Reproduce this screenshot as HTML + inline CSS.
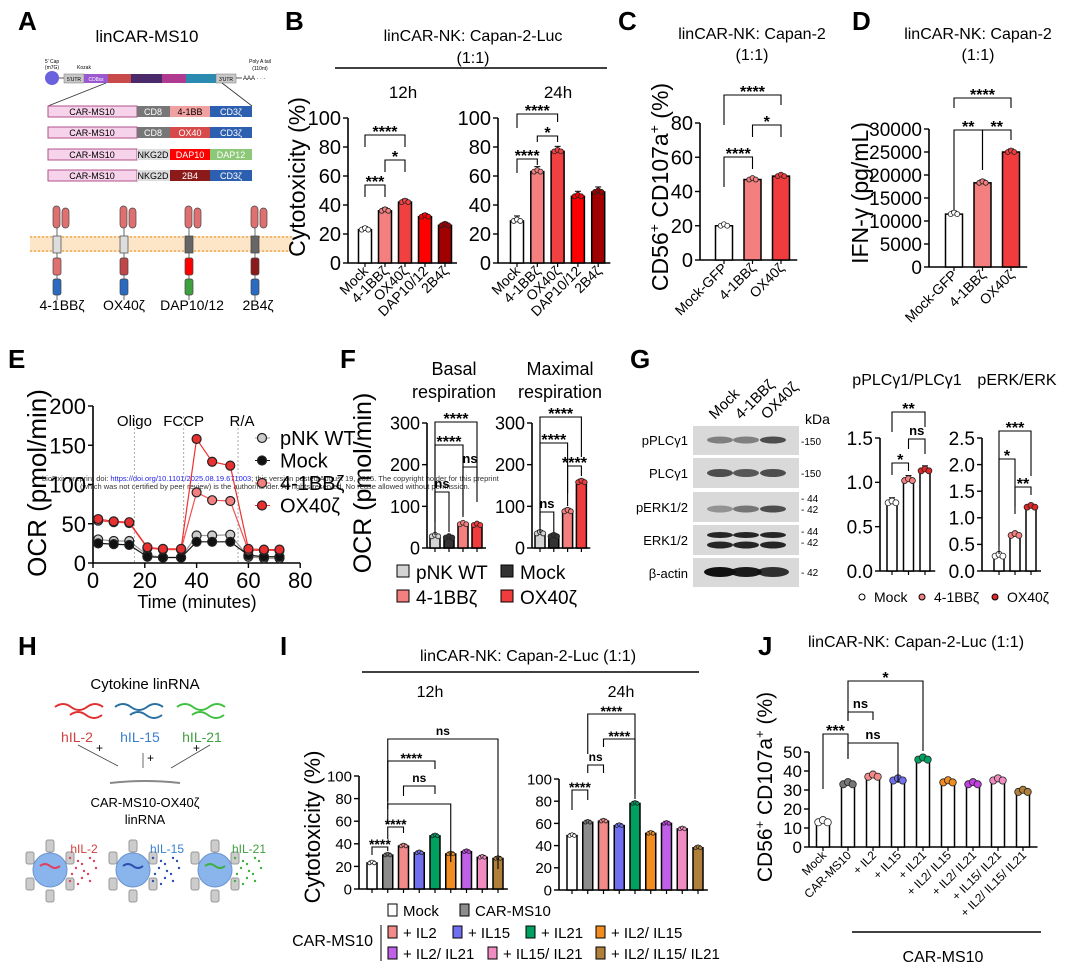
<!DOCTYPE html>
<html><head><meta charset="utf-8"><style>
html,body{margin:0;padding:0;background:#fff;}
svg{display:block;font-family:"Liberation Sans",Arial,sans-serif;}
</style></head><body>
<svg id="fig" width="1076" height="976" viewBox="0 0 1076 976" xmlns="http://www.w3.org/2000/svg">
<rect x="0" y="0" width="1076" height="976" fill="#fff"/>
<!-- panel letters -->
<g font-weight="bold" font-size="26" fill="#000">
<text x="18" y="30">A</text>
<text x="285" y="30">B</text>
<text x="618" y="30">C</text>
<text x="852" y="30">D</text>
<text x="8" y="368">E</text>
<text x="340" y="368">F</text>
<text x="630" y="368">G</text>
<text x="18" y="655">H</text>
<text x="280" y="655">I</text>
<text x="758" y="655">J</text>
</g>

<!-- Panel A diagram -->
<g>
<text x="147" y="42" font-size="17" text-anchor="middle">linCAR-MS10</text>
<text x="52" y="63" font-size="5" text-anchor="middle">5' Cap</text>
<text x="52" y="69" font-size="5" text-anchor="middle">(m7G)</text>
<text x="84" y="69" font-size="5" text-anchor="middle">Kozak</text>
<text x="260" y="63" font-size="5" text-anchor="middle">Poly A tail</text>
<text x="260" y="70" font-size="5" text-anchor="middle">(110nt)</text>
<circle cx="52" cy="78" r="7" fill="#6a62dc"/>
<line x1="59" y1="78" x2="64" y2="78" stroke="#555"/>
<rect x="64" y="74" width="20" height="9" fill="#c8c8c8" stroke="#777" stroke-width="0.5"/>
<text x="74" y="81" font-size="5" text-anchor="middle">5'UTR</text>
<rect x="84" y="74" width="24" height="9" fill="#9b59d0"/>
<text x="96" y="81" font-size="5" fill="#fff" text-anchor="middle">CD8ss</text>
<rect x="108" y="74" width="23" height="9" fill="#c94a4a"/>
<rect x="131" y="74" width="31" height="9" fill="#4a2a6a"/>
<rect x="162" y="74" width="24" height="9" fill="#b03a90"/>
<rect x="186" y="74" width="30" height="9" fill="#2a8ab0"/>
<rect x="216" y="74" width="20" height="9" fill="#c8c8c8" stroke="#777" stroke-width="0.5"/>
<text x="226" y="81" font-size="5" text-anchor="middle">3'UTR</text>
<line x1="236" y1="78" x2="242" y2="78" stroke="#555"/>
<text x="243" y="80" font-size="6">AAA · · ·</text>
<line x1="106" y1="83" x2="48" y2="106" stroke="#333" stroke-width="0.8"/>
<line x1="222" y1="83" x2="252" y2="106" stroke="#333" stroke-width="0.8"/>
<g font-size="9" text-anchor="middle">
<g><rect x="48" y="106" width="89" height="11" fill="#f6d3ea" stroke="#b0528a"/><rect x="137" y="106" width="33" height="11" fill="#777"/><rect x="170" y="106" width="40" height="11" fill="#f0a0a0"/><rect x="210" y="106" width="42" height="11" fill="#2d5fb0"/>
<text x="92" y="115">CAR-MS10</text><text x="153" y="115" fill="#fff">CD8</text><text x="190" y="115">4-1BB</text><text x="231" y="115" fill="#fff">CD3ζ</text></g>
<g><rect x="48" y="127" width="89" height="11" fill="#f6d3ea" stroke="#b0528a"/><rect x="137" y="127" width="33" height="11" fill="#777"/><rect x="170" y="127" width="40" height="11" fill="#d84a4a"/><rect x="210" y="127" width="42" height="11" fill="#2d5fb0"/>
<text x="92" y="136">CAR-MS10</text><text x="153" y="136" fill="#fff">CD8</text><text x="190" y="136" fill="#fff">OX40</text><text x="231" y="136" fill="#fff">CD3ζ</text></g>
<g><rect x="48" y="149" width="89" height="11" fill="#f6d3ea" stroke="#b0528a"/><rect x="137" y="149" width="33" height="11" fill="#ddd"/><rect x="170" y="149" width="40" height="11" fill="#f00"/><rect x="210" y="149" width="42" height="11" fill="#8cc878"/>
<text x="92" y="158">CAR-MS10</text><text x="153" y="158">NKG2D</text><text x="190" y="158" fill="#fff">DAP10</text><text x="231" y="158" fill="#fff">DAP12</text></g>
<g><rect x="48" y="170" width="89" height="11" fill="#f6d3ea" stroke="#b0528a"/><rect x="137" y="170" width="33" height="11" fill="#ddd"/><rect x="170" y="170" width="40" height="11" fill="#8b1a1a"/><rect x="210" y="170" width="42" height="11" fill="#2d5fb0"/>
<text x="92" y="179">CAR-MS10</text><text x="153" y="179">NKG2D</text><text x="190" y="179" fill="#fff">2B4</text><text x="231" y="179" fill="#fff">CD3ζ</text></g>
</g>
<rect x="30" y="236" width="262" height="16" fill="#fde6c8"/>
<line x1="30" y1="237" x2="292" y2="237" stroke="#f5b870" stroke-width="2" stroke-dasharray="2 2"/>
<line x1="30" y1="251" x2="292" y2="251" stroke="#f5b870" stroke-width="2" stroke-dasharray="2 2"/>
<g id="receptors"></g>
<g font-size="14" text-anchor="middle">
<text x="62" y="310">4-1BBζ</text><text x="124" y="310">OX40ζ</text><text x="192" y="310">DAP10/12</text><text x="258" y="310">2B4ζ</text></g>
</g>

<!-- Panel H diagram -->
<g>
<text x="145" y="689" font-size="15" text-anchor="middle">Cytokine linRNA</text>
<path d="M55 707 q8 -6 16 0 t16 0 t16 0 M70 715 q8 -6 16 0 t16 0" fill="none" stroke="#e03030" stroke-width="2"/>
<path d="M115 707 q8 -6 16 0 t16 0 t16 0 M130 715 q8 -6 16 0 t16 0" fill="none" stroke="#2a70a0" stroke-width="2"/>
<path d="M177 707 q8 -6 16 0 t16 0 t16 0 M192 715 q8 -6 16 0 t16 0" fill="none" stroke="#40c040" stroke-width="2"/>
<g font-size="14" text-anchor="middle">
<text x="77" y="742" fill="#d04040">hIL-2</text><text x="140" y="742" fill="#3a80d0">hIL-15</text><text x="202" y="742" fill="#40a040">hIL-21</text></g>
<g stroke="#444" stroke-width="0.8">
<line x1="78" y1="745" x2="118" y2="766"/><line x1="143" y1="753" x2="143" y2="768"/><line x1="210" y1="745" x2="171" y2="768"/></g>
<g font-size="12"><text x="96" y="752">+</text><text x="147" y="762">+</text><text x="193" y="752">+</text></g>
<path d="M110 783 q35 -4 70 0" fill="none" stroke="#888" stroke-width="2"/>
<text x="145" y="807" font-size="13" text-anchor="middle">CAR-MS10-OX40ζ</text>
<text x="145" y="824" font-size="13" text-anchor="middle">linRNA</text>
<g id="cells"></g>
<g font-size="12" text-anchor="middle">
<text x="84" y="853" fill="#d04040">hIL-2</text><text x="167" y="853" fill="#3a80d0">hIL-15</text><text x="249" y="853" fill="#40a040">hIL-21</text></g>
</g>

<!-- G western blot -->
<g>
<g font-size="15">
<text transform="translate(715,420) rotate(-45)">Mock</text>
<text transform="translate(741,420) rotate(-45)">4-1BBζ</text>
<text transform="translate(767,420) rotate(-45)">OX40ζ</text></g>
<text x="805" y="424" font-size="14">kDa</text>
<g id="blot"></g>
<g font-size="13" text-anchor="end">
<text x="688" y="445">pPLCγ1</text><text x="688" y="478">PLCγ1</text><text x="688" y="512">pERK1/2</text><text x="688" y="545">ERK1/2</text><text x="688" y="578">β-actin</text></g>
<g font-size="10">
<text x="801" y="445">-150</text><text x="801" y="477">-150</text><text x="801" y="502">- 44</text><text x="801" y="513">- 42</text><text x="801" y="535">- 44</text><text x="801" y="546">- 42</text><text x="801" y="576">- 42</text></g>
</g>

<!-- text titles -->
<g font-size="16" text-anchor="middle">
<text x="473" y="41">linCAR-NK: Capan-2-Luc</text><text x="473" y="63">(1:1)</text>
<text x="403" y="98" font-size="17">12h</text><text x="558" y="98" font-size="17">24h</text>
<text x="752" y="39">linCAR-NK: Capan-2</text><text x="752" y="60">(1:1)</text>
<text x="978" y="39">linCAR-NK: Capan-2</text><text x="978" y="60">(1:1)</text>
<text x="454" y="375" font-size="18">Basal</text><text x="454" y="398" font-size="18">respiration</text>
<text x="560" y="375" font-size="18">Maximal</text><text x="560" y="398" font-size="18">respiration</text>
<text x="907" y="385">pPLCγ1/PLCγ1</text><text x="1017" y="385">pERK/ERK</text>
<text x="528" y="661">linCAR-NK: Capan-2-Luc (1:1)</text>
<text x="430" y="697">12h</text><text x="621" y="697">24h</text>
<text x="916" y="647">linCAR-NK: Capan-2-Luc (1:1)</text>
<text x="943" y="962">CAR-MS10</text>
</g>
<line x1="335" y1="68" x2="607" y2="68" stroke="#000" stroke-width="1.5"/>
<line x1="362" y1="672" x2="699" y2="672" stroke="#000" stroke-width="1.5"/>
<line x1="852" y1="932" x2="1041" y2="932" stroke="#000" stroke-width="1.5"/>

<!-- axis titles -->
<g font-size="23" text-anchor="middle">
<text transform="translate(305,177) rotate(-90)">Cytotoxicity (%)</text>
<text transform="translate(668,187) rotate(-90)">CD56<tspan font-size="14" dy="-9">+</tspan><tspan dy="9"> CD107a</tspan><tspan font-size="14" dy="-9">+</tspan><tspan dy="9"> (%)</tspan></text>
<text transform="translate(868,193) rotate(-90)">IFN-γ (pg/mL)</text>
<text transform="translate(46,483) rotate(-90)" font-size="26">OCR (pmol/min)</text>
<text x="197" y="608" font-size="18">Time (minutes)</text>
<text transform="translate(371,483) rotate(-90)" font-size="25">OCR (pmol/min)</text>
<text transform="translate(320,827) rotate(-90)" font-size="22">Cytotoxicity (%)</text>
<text transform="translate(772,787) rotate(-90)" font-size="21">CD56<tspan font-size="13" dy="-8">+</tspan><tspan dy="8"> CD107a</tspan><tspan font-size="13" dy="-8">+</tspan><tspan dy="8"> (%)</tspan></text>
</g>

<!-- watermark -->
<g font-size="7.5">
<text x="42" y="481" fill="#333">bioRxiv preprint doi: <tspan fill="#2222ee">https://doi.org/10.1101/2025.08.19.671003</tspan>; this version posted August 19, 2025. The copyright holder for this preprint</text>
<text x="80" y="489" fill="#333">(which was not certified by peer review) is the author/funder. All rights reserved. No reuse allowed without permission.</text>
</g>

<!-- F legend -->
<g font-size="19">
<rect x="397" y="565" width="12" height="12" fill="#d3d3d3" stroke="#000"/><text x="416" y="579">pNK WT</text>
<rect x="501" y="565" width="12" height="12" fill="#333" stroke="#000"/><text x="520" y="579">Mock</text>
<rect x="397" y="590" width="12" height="12" fill="#f47f7f" stroke="#000"/><text x="416" y="604">4-1BBζ</text>
<rect x="501" y="590" width="12" height="12" fill="#f03c3c" stroke="#000"/><text x="520" y="604">OX40ζ</text>
</g>
<!-- G legend -->
<g font-size="14">
<circle cx="862" cy="597" r="3" fill="#fff" stroke="#000"/><text x="874" y="602">Mock</text>
<circle cx="922" cy="597" r="3" fill="#f47f7f" stroke="#000"/><text x="934" y="602">4-1BBζ</text>
<circle cx="995" cy="597" r="3" fill="#e02828" stroke="#000"/><text x="1007" y="602">OX40ζ</text>
</g>
<!-- I legend -->
<g font-size="15">
<rect x="388" y="904" width="9" height="12" fill="#fff" stroke="#000"/><text x="403" y="916">Mock</text>
<rect x="460" y="904" width="9" height="12" fill="#8c8c8c" stroke="#000"/><text x="475" y="916">CAR-MS10</text>
<rect x="388" y="926" width="9" height="12" fill="#f28a8a" stroke="#000"/><text x="403" y="938">+ IL2</text>
<rect x="453" y="926" width="9" height="12" fill="#6f6ff0" stroke="#000"/><text x="468" y="938">+ IL15</text>
<rect x="526" y="926" width="9" height="12" fill="#00a060" stroke="#000"/><text x="541" y="938">+ IL21</text>
<rect x="596" y="926" width="9" height="12" fill="#f08c20" stroke="#000"/><text x="611" y="938">+ IL2/ IL15</text>
<rect x="388" y="947" width="9" height="12" fill="#c060e8" stroke="#000"/><text x="403" y="959">+ IL2/ IL21</text>
<rect x="488" y="947" width="9" height="12" fill="#f08cc0" stroke="#000"/><text x="503" y="959">+ IL15/ IL21</text>
<rect x="596" y="947" width="9" height="12" fill="#b0803a" stroke="#000"/><text x="611" y="959">+ IL2/ IL15/ IL21</text>
<text x="373" y="946" font-size="16" text-anchor="end">CAR-MS10</text>
<line x1="381" y1="925" x2="381" y2="961" stroke="#000"/>
</g>
</svg>
<script>
// ---- data ----
const bCats = ['Mock','4-1BBζ','OX40ζ','DAP10/12','2B4ζ'];
const b12Vals = [23,36,42,32,26];
const b24Vals = [29,63,77,46,49];
const bTicks = [0,20,40,60,80,100];
const cCats = ['Mock-GFP','4-1BBζ','OX40ζ'];
const cVals = [20,47,49];
const cTicks = [0,20,40,60,80];
const dCats = ['Mock-GFP','4-1BBζ','OX40ζ'];
const dVals = [11500,18300,25000];
const dTicks = [0,5000,10000,15000,20000,25000,30000];
const eTimes = [2,8,14,21,27,34,40,46,53,60,66,72];
const ePNK = [30,28,28,10,7,7,35,35,36,8,6,6];
const eMock = [25,24,23,8,7,7,27,27,27,10,8,8];
const e41BB = [54,52,51,19,17,17,90,80,79,16,16,16];
const eOX40 = [56,53,52,20,18,18,158,129,124,18,17,17];
const eXTicks = [0,20,40,60,80];
const eYTicks = [0,50,100,150,200];
const eInjections = [16,35,56];
const eInjLabels = ['Oligo','FCCP','R/A'];
const fBasal = [28,25,57,55];
const fMaximal = [35,28,88,158];
const fTicks = [0,100,200,300];
const gPLC = [0.77,1.02,1.13];
const gERK = [0.28,0.67,1.2];
const gPLCTicks = [0,0.5,1.0,1.5];
const gERKTicks = [0,0.5,1.0,1.5,2.0,2.5];
const i12Vals = [23,30,38,32,47,31,33,28,27];
const i24Vals = [49,61,62,58,78,51,60,55,38];
const iTicks = [0,20,40,60,80,100];
const jCats = ['Mock','CAR-MS10','+ IL2','+ IL15','+ IL21','+ IL2/ IL15','+ IL2/ IL21','+ IL15/ IL21','+ IL2/ IL15/ IL21'];
const jVals = [13,33,37,35,46,34,33,35,29];
const jTicks = [0,10,20,30,40,50];

const NS='http://www.w3.org/2000/svg';
const svg=document.getElementById('fig');
function mk(tag,a,p){const e=document.createElementNS(NS,tag);for(const k in a)e.setAttribute(k,a[k]);(p||svg).appendChild(e);return e;}
function txt(s,a,p){const e=mk('text',a,p);e.textContent=s;return e;}

const redPal=['#fff','#f47f7f','#f04040','#ff0000','#a00000'];
const ilPal=['#fff','#8c8c8c','#f28a8a','#6f6ff0','#00a060','#f08c20','#c060e8','#f08cc0','#b0803a'];
const ilDot=['#fff','#777','#f28a8a','#6f6ff0','#00a060','#f08c20','#c040e0','#f08cc0','#b0803a'];

function barPanel(o){
  const g=mk('g',{});
  
  
  const y=v=>o.y0-(v/o.vmax)*(o.y0-o.ytop);
  const xc=i=>o.c0+i*o.step;
  const ax=mk('line',{x1:o.ax,y1:o.ytop,x2:o.ax,y2:o.y0,stroke:'#000','stroke-width':1.6},g);
  
  
  const xEnd=xc(o.vals.length-1)+o.step/2+2;
  const xa=mk('line',{x1:o.ax,y1:o.y0,x2:xEnd,y2:o.y0,stroke:'#000','stroke-width':1.6},g);
  
  
  o.ticks.forEach(t=>{
    const tk=mk('line',{x1:o.ax-5,y1:y(t),x2:o.ax,y2:y(t),stroke:'#000','stroke-width':1.4},g);
    
    
    const tl=txt(o.fmt?o.fmt(t):String(t),{x:o.ax-7,y:y(t)+o.tf*0.36,'font-size':o.tf,'text-anchor':'end'},g);
    
    
  });
  o.vals.forEach((v,i)=>{
    const b=mk('rect',{x:xc(i)-o.w/2,y:y(v),width:o.w,height:o.y0-y(v),fill:o.fills[i],stroke:'#000','stroke-width':1.5},g);
    
    
    const e=mk('line',{x1:xc(i),y1:y(v),x2:xc(i),y2:y(v)-o.err,stroke:'#000','stroke-width':1},g);
    
    
    const ec=mk('line',{x1:xc(i)-3,y1:y(v)-o.err,x2:xc(i)+3,y2:y(v)-o.err,stroke:'#000','stroke-width':1},g);
    
    
    [-1,0,1].forEach(k=>{
      const d=mk('circle',{cx:xc(i)+k*o.dr*1.3,cy:y(v)-(k===0?o.dr*0.6:0),r:o.dr,fill:o.dots[i],stroke:'#222','stroke-width':0.8},g);
      
      
    });
    const tk=mk('line',{x1:xc(i),y1:o.y0,x2:xc(i),y2:o.y0+4,stroke:'#000','stroke-width':1.2},g);
    
    
    if(o.cats){
      const cl=txt(o.cats[i],{transform:`translate(${xc(i)+4},${o.y0+9}) rotate(-45)`,'font-size':o.cf,'text-anchor':'end'},g);
      
      
    }
  });
  return {xc,y,g};
}
function bracket(P,i,j,top,label,di,dj,fs){
  const x1=P.xc(i),x2=P.xc(j);
  const p=mk('path',{d:`M${x1} ${top+(di||12)} V${top} H${x2} V${top+(dj||12)}`,fill:'none',stroke:'#000','stroke-width':1.1},P.g);
  
  
  const t=txt(label,{x:(x1+x2)/2,y:label==='ns'?top-4:top+2,'font-size':label==='ns'?(fs||14):(fs||14)+2,'text-anchor':'middle','font-weight':'bold'},P.g);
  
  
}

// B
const B12=barPanel({name:'b-12h-chart',ax:348,y0:263,ytop:118,vmax:100,ticks:bTicks,tf:20,c0:365,step:20,w:13,vals:b12Vals,fills:redPal,dots:redPal,cats:bCats,cf:14,err:3,dr:2.5});
bracket(B12,0,2,135,'****',12,12);bracket(B12,1,2,160,'*',12,12);bracket(B12,0,1,185,'***',12,12);
const B24=barPanel({name:'b-24h-chart',ax:498,y0:263,ytop:118,vmax:100,ticks:bTicks,tf:20,c0:517,step:20.3,w:13,vals:b24Vals,fills:redPal,dots:redPal,cats:bCats,cf:14,err:5,dr:2.5});
bracket(B24,0,2,114,'****',14,8);bracket(B24,1,2,136,'*',6,6);bracket(B24,0,1,159,'****',14,6);
// C
const C=barPanel({name:'c-chart',ax:700,y0:260,ytop:123,vmax:80,ticks:cTicks,tf:20,c0:724,step:28.5,w:17,vals:cVals,fills:['#fff','#f47f7f','#f03c3c'],dots:['#fff','#f47f7f','#f03c3c'],cats:cCats,cf:14,err:2,dr:2.5});
bracket(C,0,2,95,'****',30,10);bracket(C,1,2,125,'*',12,12);bracket(C,0,1,157,'****',30,12);
// D
const D=barPanel({name:'d-chart',ax:929,y0:267,ytop:129,vmax:30000,ticks:dTicks,tf:19,c0:954,step:28.5,w:17,vals:dVals,fills:['#fff','#f47f7f','#f03c3c'],dots:['#fff','#f47f7f','#f03c3c'],cats:dCats,cf:14,err:3,dr:2.5});
bracket(D,0,2,98,'****',10,10);bracket(D,0,1,130,'**',80,40);bracket(D,1,2,130,'**',40,10);
// F
const F1=barPanel({name:'f-basal-chart',ax:427,y0:548,ytop:423,vmax:300,ticks:fTicks,tf:18,c0:435,step:14,w:10,vals:fBasal,fills:['#d3d3d3','#333','#f47f7f','#f03c3c'],dots:['#d3d3d3','#333','#f47f7f','#f03c3c'],err:2,dr:2.5});
bracket(F1,0,3,422,'****',100,80);bracket(F1,0,2,445,'****',90,70);bracket(F1,2,3,467,'ns',50,10,13);bracket(F1,0,1,492,'ns',40,40,13);
const F2=barPanel({name:'f-maximal-chart',ax:532,y0:548,ytop:423,vmax:300,ticks:fTicks,tf:18,c0:540,step:13.8,w:10,vals:fMaximal,fills:['#d3d3d3','#333','#f47f7f','#f03c3c'],dots:['#d3d3d3','#333','#f47f7f','#f03c3c'],err:3,dr:2.5});
bracket(F2,0,3,417,'****',110,40);bracket(F2,0,2,443,'****',90,50);bracket(F2,2,3,466,'****',40,10);bracket(F2,0,1,512,'ns',20,20,13);
// G
const G1=barPanel({name:'g-plc-chart',ax:880,y0:571,ytop:438,vmax:1.5,ticks:gPLCTicks,fmt:t=>t.toFixed(1),tf:19,c0:892,step:16.5,w:10,vals:gPLC,fills:['#fff','#fff','#fff'],dots:['#fff','#f47f7f','#e02828'],err:5,dr:3});
bracket(G1,0,2,412,'**',20,15);bracket(G1,0,1,463,'*',12,8);bracket(G1,1,2,439,'ns',10,15,13);
const G2=barPanel({name:'g-erk-chart',ax:982,y0:571,ytop:438,vmax:2.5,ticks:gERKTicks,fmt:t=>t.toFixed(1),tf:19,c0:999,step:16,w:10,vals:gERK,fills:['#fff','#fff','#fff'],dots:['#fff','#f47f7f','#e02828'],err:3,dr:3});
bracket(G2,0,2,431,'***',115,45);bracket(G2,0,1,459,'*',95,55);bracket(G2,1,2,487,'**',20,8);
// I
const I12=barPanel({name:'i-12h-chart',ax:359,y0:889,ytop:776,vmax:100,ticks:iTicks,tf:15,c0:372,step:15.75,w:10,vals:i12Vals,fills:ilPal,dots:ilDot,err:2,dr:1.8});
bracket(I12,0,1,847,'****',8,4,12);bracket(I12,1,2,827,'****',12,6,12);bracket(I12,1,5,804,'',20,58);bracket(I12,2,4,786,'ns',10,8,12);bracket(I12,1,4,761,'****',40,8,12);bracket(I12,1,8,739,'ns',70,130,12);
const I24=barPanel({name:'i-24h-chart',ax:559,y0:890,ytop:779,vmax:100,ticks:iTicks,tf:15,c0:572,step:15.75,w:10,vals:i24Vals,fills:ilPal,dots:ilDot,err:2,dr:1.8});
bracket(I24,0,1,790,'****',20,10,12);bracket(I24,1,2,765,'ns',8,8,12);bracket(I24,2,4,739,'****',8,60,12);bracket(I24,1,4,714,'****',40,80,12);
// J
const J=barPanel({name:'j-chart',ax:809,y0:847,ytop:752,vmax:50,ticks:jTicks,tf:17,c0:823,step:25,w:13,vals:jVals,fills:ilPal.map(()=>'#fff'),dots:ilDot,cats:jCats,cf:12,err:4,dr:3.6});
bracket(J,0,1,734,'***',55,25);bracket(J,1,3,743,'ns',15,40,13);bracket(J,1,2,712,'ns',8,8,13);bracket(J,1,4,681,'*',40,70);

// E line chart
(function(){
  const g=mk('g',{});
  
  
  const x=t=>93+t*2.59, y=v=>563-v*0.785;
  eInjections.forEach((t,i)=>{
    const l=mk('line',{x1:x(t),y1:416,x2:x(t),y2:563,stroke:'#aaa','stroke-dasharray':'2 2'},g);
    
    
    const lt=txt(eInjLabels[i],{x:x(t)-(i===2?-4:0),y:426,'font-size':15,'text-anchor':'middle'},g);
    
    
  });
  const ya=mk('line',{x1:93,y1:y(200),x2:93,y2:563,stroke:'#000','stroke-width':1.6},g);
  
  
  const xa=mk('line',{x1:93,y1:563,x2:x(80),y2:563,stroke:'#000','stroke-width':1.6},g);
  
  
  eYTicks.forEach(t=>{
    const tk=mk('line',{x1:88,y1:y(t),x2:93,y2:y(t),stroke:'#000','stroke-width':1.4},g);
    
    
    const tl=txt(String(t),{x:86,y:y(t)+8,'font-size':22,'text-anchor':'end'},g);
    
    
  });
  eXTicks.forEach(t=>{
    const tk=mk('line',{x1:x(t),y1:563,x2:x(t),y2:568,stroke:'#000','stroke-width':1.4},g);
    
    
    const tl=txt(String(t),{x:x(t),y:588,'font-size':22,'text-anchor':'middle'},g);
    
    
  });
  const series=[[ePNK,'#999','#ccc','pnk-wt'],[eMock,'#111','#111','mock'],[e41BB,'#f05050','#f47f7f','41bbz'],[eOX40,'#f03030','#e83030','ox40z']];
  series.forEach(s=>{
    const pl=mk('polyline',{points:eTimes.map((t,i)=>x(t)+','+y(s[0][i])).join(' '),fill:'none',stroke:s[1],'stroke-width':1.2},g);
    
    
    eTimes.forEach((t,i)=>{
      const c=mk('circle',{cx:x(t),cy:y(s[0][i]),r:4.5,fill:s[2],stroke:'#222','stroke-width':1.2},g);
      
      
    });
  });
  const lg=[['pNK WT','#999','#ccc'],['Mock','#111','#111'],['4-1BBζ','#f05050','#f47f7f'],['OX40ζ','#f03030','#e83030']];
  lg.forEach((l,i)=>{
    const yy=438+i*22.5;
    const ln=mk('line',{x1:255,y1:yy,x2:270,y2:yy,stroke:l[1]},g);
    
    
    const c=mk('circle',{cx:262,cy:yy,r:4.5,fill:l[2],stroke:'#222','stroke-width':1.2},g);
    
    
    const t=txt(l[0],{x:280,y:yy+7,'font-size':20},g);
    
    
  });
})();

// A receptors
(function(){
  const R=document.getElementById('receptors');
  const xs=[60,127,192,258];
  const tm=['#ddd','#ddd','#666','#666'];
  const sig=['#e07070','#c04848','#ff0000','#8b1a1a'];
  const zeta=['#2a6ac0','#2a6ac0','#40a040','#2a6ac0'];
  xs.forEach((x,i)=>{
    const a=mk('rect',{x:x-7,y:206,width:7,height:22,rx:3.5,fill:'#e07070',stroke:'#444','stroke-width':0.7},R);
    
    
    const b=mk('rect',{x:x+2,y:208,width:7,height:20,rx:3.5,fill:'#e07070',stroke:'#444','stroke-width':0.7},R);
    
    
    const s=mk('line',{x1:x-3,y1:228,x2:x-3,y2:300,stroke:'#444','stroke-width':0.8},R);
    
    
    const t=mk('rect',{x:x-7,y:236,width:8,height:17,fill:tm[i],stroke:'#444','stroke-width':0.7},R);
    
    
    const sg=mk('rect',{x:x-7,y:258,width:8,height:17,rx:2,fill:sig[i],stroke:'#444','stroke-width':0.7},R);
    
    
    const z=mk('rect',{x:x-7,y:279,width:8,height:16,rx:2,fill:zeta[i],stroke:'#444','stroke-width':0.7},R);
    
    
  });
  // H cells
  const C=document.getElementById('cells');
  const cx=[50,133,215], col=['#e04060','#2a50b0','#40b040'];
  cx.forEach((x,i)=>{
    [[-20,-12],[20,-12],[-20,14],[20,14],[0,-24],[0,26]].forEach(o=>{
      const r=mk('rect',{x:x+o[0]-4,y:870+o[1]-6,width:8,height:12,rx:2,fill:'#ccc',stroke:'#999'},C);
      
      
    });
    const c=mk('circle',{cx:x,cy:870,r:17,fill:'#8ab4ec',stroke:'#6a94cc'},C);
    
    
    const p=mk('path',{d:`M${x-10} 866 q5 -4 10 0 t10 0`,fill:'none',stroke:col[i],'stroke-width':2},C);
    
    
    for(let k=0;k<14;k++){
      const d=mk('circle',{cx:x+20+(k%5)*6+(k%2)*2,cy:858+Math.floor(k/5)*10+(k%3)*3,r:1.2,fill:col[i]},C);
      
      
    }
  });
  // Blot
  const Bl=document.getElementById('blot');
  const rows=[[426,455],[458,488],[492,522],[525,555],[558,587]];
  const lanes=[720,746,773];
  const inten=[[0.45,0.45,0.7],[0.7,0.65,0.7],[0.35,0.5,0.7],[0.9,0.9,0.9],[1,0.95,0.85]];
  const bandInfo=[[[440,5]],[[473,6]],[[509,5]],[[535,4],[545,5]],[[572,8]]];
  rows.forEach((r,ri)=>{
    const bg=mk('rect',{x:693,y:r[0],width:106,height:r[1]-r[0],fill:'#d9d9d9'},Bl);
    
    
    bandInfo[ri].forEach(bi=>{
      lanes.forEach((lx,li)=>{
        const e=mk('ellipse',{cx:lx,cy:bi[0],rx:ri===4?16:13,ry:bi[1]/2+1,fill:'#111','fill-opacity':inten[ri][li]},Bl);
        
        
      });
    });
  });
})();
</script>
</body></html>
